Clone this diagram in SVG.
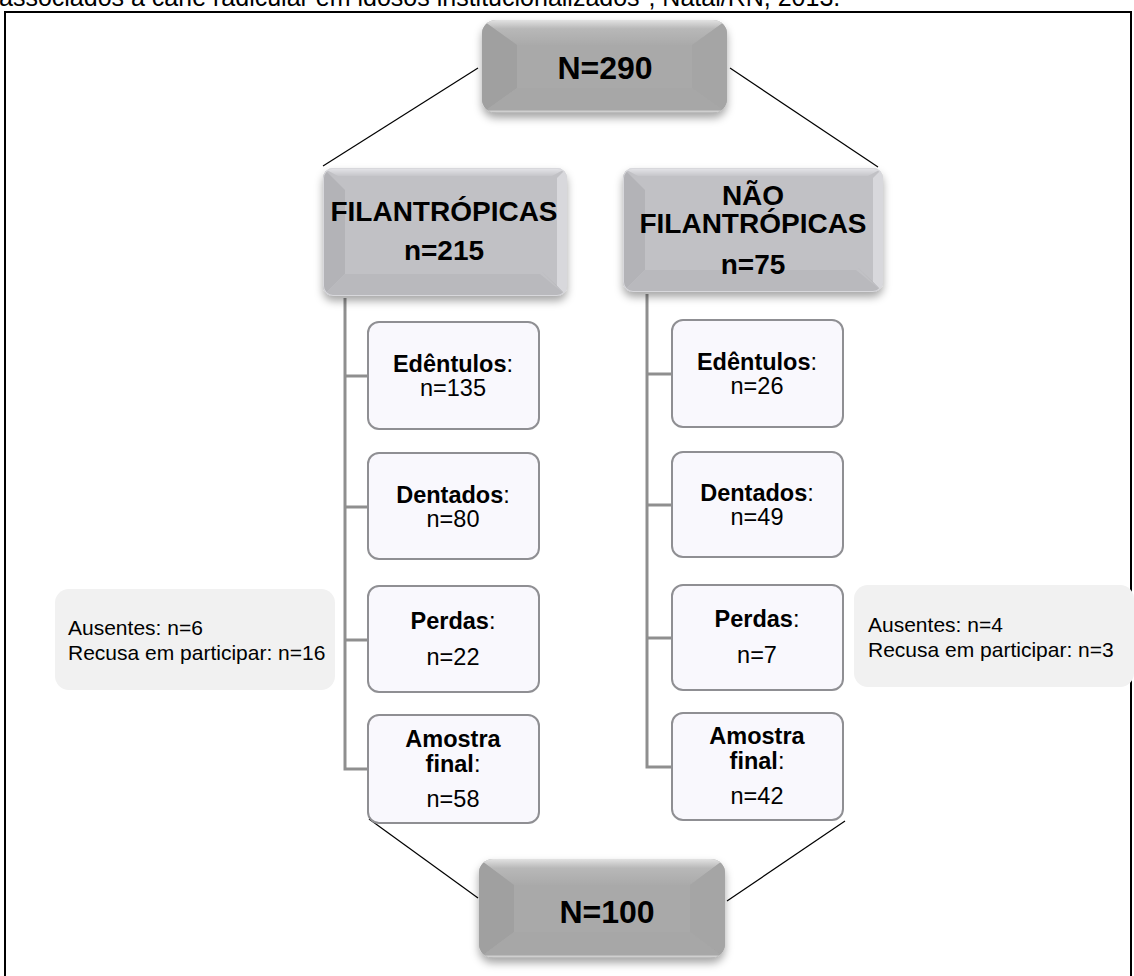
<svg xmlns="http://www.w3.org/2000/svg" width="1134" height="976" viewBox="0 0 1134 976">
<style>
.cap{font-family:"Liberation Sans",Arial,sans-serif;font-size:25px;fill:#000}
.big{font-family:"Liberation Sans",Arial,sans-serif;font-size:32px;font-weight:bold;fill:#000;text-anchor:middle}
.mid{font-family:"Liberation Sans",Arial,sans-serif;font-size:28px;font-weight:bold;fill:#000;text-anchor:middle}
.sm{font-family:"Liberation Sans",Arial,sans-serif;font-size:23.5px;fill:#000;text-anchor:middle}
.b{font-weight:bold}
.note{font-family:"Liberation Sans",Arial,sans-serif;font-size:21px;fill:#000}
.child{fill:#f9f8fd;stroke:#8f8f93;stroke-width:2}
.notebox{fill:#f1f1f1}
.tree{fill:none;stroke:#8f8f8f;stroke-width:3}
.thin{fill:none;stroke:#000;stroke-width:1.2}
</style>
<defs>
<filter id="sh" x="-20%" y="-20%" width="140%" height="160%">
<feDropShadow dx="0" dy="5" stdDeviation="4" flood-color="#000" flood-opacity="0.35"/>
</filter>
<linearGradient id="topA" x1="0" y1="0" x2="0" y2="1">
<stop offset="0" stop-color="#e2e2e2"/><stop offset="0.35" stop-color="#b8b8b8"/><stop offset="1" stop-color="#aaaaaa"/>
</linearGradient>
<linearGradient id="topB" x1="0" y1="0" x2="0" y2="1">
<stop offset="0" stop-color="#e6e6ea"/><stop offset="1" stop-color="#c6c6ca"/>
</linearGradient>
<clipPath id="cA"><rect x="482" y="20" width="245" height="93" rx="14"/></clipPath>
<clipPath id="cD"><rect x="479" y="859" width="246" height="99" rx="14"/></clipPath>
<clipPath id="cB"><rect x="323" y="168" width="244" height="128" rx="10"/></clipPath>
<clipPath id="cC"><rect x="623" y="168" width="260" height="124" rx="10"/></clipPath>
</defs>

<text class="cap" x="-1" y="6">associados à cárie radicular em idosos institucionalizados", Natal/RN, 2013.</text>
<path d="M5,976 V12 H1131 V976" fill="none" stroke="#000" stroke-width="2"/>

<g id="connectors">
<line class="thin" x1="478" y1="68" x2="323" y2="166"/>
<line class="thin" x1="730" y1="68" x2="878" y2="167"/>
<line class="thin" x1="369" y1="819" x2="478" y2="898"/>
<line class="thin" x1="727" y1="901" x2="845" y2="821"/>
<path class="tree" d="M345,298 V769 H368 M345,376 H368 M345,507 H368 M345,640 H368"/>
<path class="tree" d="M647,294 V767 H672 M647,374 H672 M647,505 H672 M647,638 H672"/>
</g>

<g id="n290">
<g filter="url(#sh)"><rect x="482" y="20" width="245" height="93" rx="14" fill="#a9a9a9"/></g>
<g clip-path="url(#cA)">
<polygon points="482,20 727,20 692,45 517,45" fill="url(#topA)"/>
<polygon points="482,20 517,45 517,88 482,113" fill="#a0a0a0"/>
<polygon points="727,20 692,45 692,88 727,113" fill="#a5a5a5"/>
<polygon points="482,113 517,88 692,88 727,113" fill="#a7a7a7"/>
<line x1="486" y1="111.5" x2="723" y2="111.5" stroke="#cfcfcf" stroke-width="2"/>
</g>
<text class="big" x="605" y="79">N=290</text>
</g>

<g id="filantropicas">
<g filter="url(#sh)"><rect x="323" y="168" width="244" height="128" rx="10" fill="#c1c1c5"/></g>
<g clip-path="url(#cB)">
<polygon points="323,168 567,168 552,176 338,176" fill="url(#topB)"/>
<polygon points="323,168 345,190 345,274 323,296" fill="#b3b3b7"/>
<polygon points="567,168 557,178 557,286 567,296" fill="#d8d8dc"/>
<polygon points="323,296 345,274 540,274 567,296" fill="#b9b9bd"/>
<polygon points="567,296 540,270 557,286" fill="#a8a8ac"/>
<rect x="323" y="168" width="244" height="128" rx="10" fill="none" stroke="#d8d8dc" stroke-width="2"/>
</g>
<text class="mid" x="444" y="221">FILANTRÓPICAS</text>
<text class="mid" x="444" y="260">n=215</text>
</g>

<g id="nao-filantropicas">
<g filter="url(#sh)"><rect x="623" y="168" width="260" height="124" rx="10" fill="#c1c1c5"/></g>
<g clip-path="url(#cC)">
<polygon points="623,168 883,168 868,176 638,176" fill="url(#topB)"/>
<polygon points="623,168 645,190 645,270 623,292" fill="#b3b3b7"/>
<polygon points="883,168 873,178 873,282 883,292" fill="#d8d8dc"/>
<polygon points="623,292 645,270 856,270 883,292" fill="#b9b9bd"/>
<polygon points="883,292 856,266 873,282" fill="#a8a8ac"/>
<rect x="623" y="168" width="260" height="124" rx="10" fill="none" stroke="#d8d8dc" stroke-width="2"/>
</g>
<text class="mid" x="753" y="205">NÃO</text>
<text class="mid" x="753" y="233">FILANTRÓPICAS</text>
<text class="mid" x="753" y="274">n=75</text>
</g>

<g id="f-edentulos">
<rect class="child" x="368" y="322" width="171" height="107" rx="11"/>
<text class="sm" x="453" y="372"><tspan class="b">Edêntulos</tspan>:</text>
<text class="sm" x="453" y="396">n=135</text>
</g>
<g id="f-dentados">
<rect class="child" x="368" y="453" width="171" height="106" rx="11"/>
<text class="sm" x="453" y="503"><tspan class="b">Dentados</tspan>:</text>
<text class="sm" x="453" y="527">n=80</text>
</g>
<g id="f-perdas">
<rect class="child" x="368" y="586" width="171" height="106" rx="11"/>
<text class="sm" x="453" y="629"><tspan class="b">Perdas</tspan>:</text>
<text class="sm" x="453" y="665">n=22</text>
</g>
<g id="f-amostra">
<rect class="child" x="368" y="715" width="171" height="108" rx="11"/>
<text class="sm" x="453" y="747"><tspan class="b">Amostra</tspan></text>
<text class="sm" x="453" y="772"><tspan class="b">final</tspan>:</text>
<text class="sm" x="453" y="807">n=58</text>
</g>

<g id="n-edentulos">
<rect class="child" x="672" y="320" width="171" height="107" rx="11"/>
<text class="sm" x="757" y="370"><tspan class="b">Edêntulos</tspan>:</text>
<text class="sm" x="757" y="394">n=26</text>
</g>
<g id="n-dentados">
<rect class="child" x="672" y="452" width="171" height="105" rx="11"/>
<text class="sm" x="757" y="501"><tspan class="b">Dentados</tspan>:</text>
<text class="sm" x="757" y="525">n=49</text>
</g>
<g id="n-perdas">
<rect class="child" x="672" y="585" width="171" height="105" rx="11"/>
<text class="sm" x="757" y="627"><tspan class="b">Perdas</tspan>:</text>
<text class="sm" x="757" y="663">n=7</text>
</g>
<g id="n-amostra">
<rect class="child" x="672" y="713" width="171" height="107" rx="11"/>
<text class="sm" x="757" y="744"><tspan class="b">Amostra</tspan></text>
<text class="sm" x="757" y="769"><tspan class="b">final</tspan>:</text>
<text class="sm" x="757" y="804">n=42</text>
</g>

<g id="note-left">
<rect class="notebox" x="55" y="589" width="280" height="101" rx="14"/>
<text class="note" x="68" y="635">Ausentes: n=6</text>
<text class="note" x="68" y="660">Recusa em participar: n=16</text>
</g>
<g id="note-right">
<rect class="notebox" x="854" y="585" width="280" height="102" rx="14"/>
<text class="note" x="868" y="632">Ausentes: n=4</text>
<text class="note" x="868" y="657">Recusa em participar: n=3</text>
</g>

<g id="n100">
<g filter="url(#sh)"><rect x="479" y="859" width="246" height="99" rx="14" fill="#a9a9a9"/></g>
<g clip-path="url(#cD)">
<polygon points="479,859 725,859 690,885 514,885" fill="url(#topA)"/>
<polygon points="479,859 514,885 514,932 479,958" fill="#a0a0a0"/>
<polygon points="725,859 690,885 690,932 725,958" fill="#a5a5a5"/>
<polygon points="479,958 514,932 690,932 725,958" fill="#a7a7a7"/>
<line x1="483" y1="956.5" x2="721" y2="956.5" stroke="#cfcfcf" stroke-width="2"/>
</g>
<text class="big" x="607" y="923">N=100</text>
</g>
</svg>
